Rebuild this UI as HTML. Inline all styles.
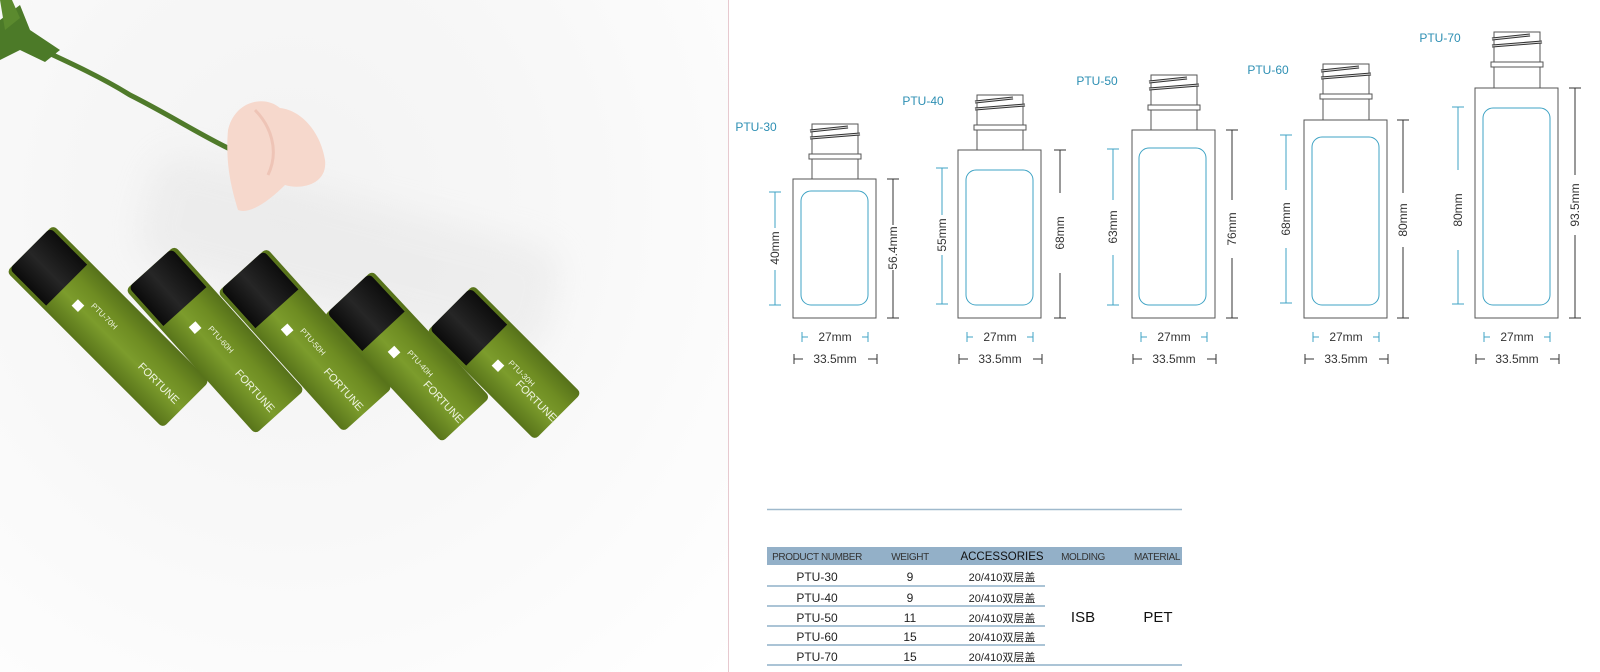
<!DOCTYPE html>
<html><head><meta charset="utf-8"><style>
html,body{margin:0;padding:0;background:#fff;width:1600px;height:672px;overflow:hidden;position:relative;font-family:"Liberation Sans","Noto Sans CJK SC",sans-serif}
.photo{position:absolute;left:0;top:0;width:728px;height:672px;background:radial-gradient(ellipse at 40% 30%,#f3f3f3 0%,#f7f7f7 40%,#fbfbfb 70%,#fff 100%);overflow:hidden}
.sh{position:absolute;background:#dedede;filter:blur(16px);border-radius:30px}
.b{position:absolute;width:66px;border-radius:5px;background:linear-gradient(90deg,#58741a,#7c9c2c 40%,#6e8c22 70%,#56711a)}
.b .cap{position:absolute;left:4px;top:0;width:58px;height:52px;background:linear-gradient(90deg,#0b0b0b,#262626 45%,#0d0d0d);border-radius:5px 5px 0 0}
.b .sq{position:absolute;left:22px;top:70px;width:9px;height:9px;background:#fff}
.b .t{position:absolute;color:#eef3df;font-size:8px;transform:rotate(90deg);transform-origin:0 0;white-space:nowrap}
</style></head><body>
<div class="photo">
  <div class="sh" style="left:140px;top:200px;width:420px;height:110px;transform:rotate(14deg);opacity:.35"></div>
  <svg width="728" height="672" style="position:absolute;left:0;top:0">
    <path d="M0 30 C40 50 90 70 130 95 C170 115 200 135 232 150" stroke="#4f7a2a" stroke-width="5" fill="none"/>
    <path d="M0 20 L20 5 L30 30 L60 50 L45 62 L20 50 L0 60Z" fill="#4c7a28"/>
    <path d="M0 0 L12 0 L20 18 L5 30Z" fill="#5b8a2e"/>
    <path d="M228 130 C235 100 265 95 280 108 C300 110 320 130 325 160 C328 185 300 190 285 185 C270 200 250 215 238 210 C232 190 225 165 228 130Z" fill="#f6d8cc"/>
    <path d="M255 110 C270 125 280 150 268 175" stroke="#eec4b6" stroke-width="3" fill="none"/>
  </svg>
  <div class="b" style="left:75px;top:216px;height:221px;transform:rotate(-45deg)"><div class="cap"></div><div class="sq"></div><div class="t" style="left:42px;top:84px">PTU-70H</div><div class="t" style="left:34px;top:160px;font-size:11px">FORTUNE</div></div>
  <div class="b" style="left:182px;top:243px;height:194px;transform:rotate(-42deg)"><div class="cap"></div><div class="sq"></div><div class="t" style="left:42px;top:84px">PTU-60H</div><div class="t" style="left:34px;top:135px;font-size:11px">FORTUNE</div></div>
  <div class="b" style="left:272px;top:246px;height:188px;transform:rotate(-42deg)"><div class="cap"></div><div class="sq"></div><div class="t" style="left:42px;top:84px">PTU-50H</div><div class="t" style="left:34px;top:130px;font-size:11px">FORTUNE</div></div>
  <div class="b" style="left:374px;top:270px;height:173px;transform:rotate(-43deg)"><div class="cap"></div><div class="sq"></div><div class="t" style="left:42px;top:84px">PTU-40H</div><div class="t" style="left:34px;top:118px;font-size:11px">FORTUNE</div></div>
  <div class="b" style="left:471px;top:286px;height:153px;transform:rotate(-45deg)"><div class="cap"></div><div class="sq"></div><div class="t" style="left:42px;top:80px">PTU-30H</div><div class="t" style="left:34px;top:100px;font-size:11px">FORTUNE</div></div>
</div>
<div style="position:absolute;left:728px;top:0;width:1px;height:672px;background:#e7c9cf"></div>

<svg width="1600" height="672" style="position:absolute;left:0;top:0" font-family="Liberation Sans, Noto Sans CJK SC, sans-serif">
<g fill="#2d8fb3" font-size="12">
<text x="756" y="131" text-anchor="middle">PTU-30</text>
<text x="923" y="105" text-anchor="middle">PTU-40</text>
<text x="1097" y="85" text-anchor="middle">PTU-50</text>
<text x="1268" y="74" text-anchor="middle">PTU-60</text>
<text x="1440" y="42" text-anchor="middle">PTU-70</text>
</g>

<g transform="translate(793,0)" fill="none" stroke-width="1">
<rect x="19" y="124" width="46" height="55" stroke="#555"/>
<path d="M17 131 L55 127 M17 138 L67 134" stroke="#333" stroke-width="3"/>
<path d="M17 131 L55 127 M17 138 L67 134" stroke="#ddd" stroke-width="1"/>
<rect x="16" y="154" width="52" height="5" stroke="#555" fill="#fff"/>
<rect x="0" y="179" width="83" height="139" stroke="#555" fill="#fff"/>
<rect x="8" y="191" width="67" height="114" rx="10" stroke="#3fa3c4"/>
<path d="M-24 192 H-12 M-18 192 V228 M-18 270 V305 M-24 305 H-12" stroke="#3fa3c4"/>
<path d="M94 179 H106 M100 179 V225 M100 270 V318 M94 318 H106" stroke="#333"/>
<path d="M9 332 V342 M9 337 H15 M75 332 V342 M75 337 H69" stroke="#3fa3c4"/>
<path d="M1 354 V364 M1 359 H10 M84 354 V364 M84 359 H75" stroke="#333"/>
</g>
<g font-size="12" fill="#333" text-anchor="middle">
<text transform="translate(779,248) rotate(-90)">40mm</text>
<text transform="translate(897,248) rotate(-90)">56.4mm</text>
<text x="835" y="341">27mm</text><text x="835" y="363">33.5mm</text>
</g>

<g transform="translate(958,0)" fill="none">
<rect x="19" y="95" width="46" height="55" stroke="#555"/>
<path d="M17 102 L55 98 M17 109 L67 105" stroke="#333" stroke-width="3"/>
<path d="M17 102 L55 98 M17 109 L67 105" stroke="#ddd" stroke-width="1"/>
<rect x="16" y="125" width="52" height="5" stroke="#555" fill="#fff"/>
<rect x="0" y="150" width="83" height="168" stroke="#555" fill="#fff"/>
<rect x="8" y="170" width="67" height="135" rx="10" stroke="#3fa3c4"/>
<path d="M-22 168 H-10 M-16 168 V215 M-16 255 V304 M-22 304 H-10" stroke="#3fa3c4"/>
<path d="M96 150 H108 M102 150 V193 M102 273 V318 M96 318 H108" stroke="#333"/>
<path d="M9 332 V342 M9 337 H15 M75 332 V342 M75 337 H69" stroke="#3fa3c4"/>
<path d="M1 354 V364 M1 359 H10 M84 354 V364 M84 359 H75" stroke="#333"/>
</g>
<g font-size="12" fill="#333" text-anchor="middle">
<text transform="translate(946,235) rotate(-90)">55mm</text>
<text transform="translate(1064,233) rotate(-90)">68mm</text>
<text x="1000" y="341">27mm</text><text x="1000" y="363">33.5mm</text>
</g>

<g transform="translate(1132,0)" fill="none">
<rect x="19" y="75" width="46" height="55" stroke="#555"/>
<path d="M17 82 L55 78 M17 89 L67 85" stroke="#333" stroke-width="3"/>
<path d="M17 82 L55 78 M17 89 L67 85" stroke="#ddd" stroke-width="1"/>
<rect x="16" y="105" width="52" height="5" stroke="#555" fill="#fff"/>
<rect x="0" y="130" width="83" height="188" stroke="#555" fill="#fff"/>
<rect x="7" y="148" width="67" height="157" rx="10" stroke="#3fa3c4"/>
<path d="M-25 149 H-13 M-19 149 V200 M-19 255 V305 M-25 305 H-13" stroke="#3fa3c4"/>
<path d="M94 130 H106 M100 130 V200 M100 258 V318 M94 318 H106" stroke="#333"/>
<path d="M9 332 V342 M9 337 H15 M75 332 V342 M75 337 H69" stroke="#3fa3c4"/>
<path d="M1 354 V364 M1 359 H10 M84 354 V364 M84 359 H75" stroke="#333"/>
</g>
<g font-size="12" fill="#333" text-anchor="middle">
<text transform="translate(1117,227) rotate(-90)">63mm</text>
<text transform="translate(1236,229) rotate(-90)">76mm</text>
<text x="1174" y="341">27mm</text><text x="1174" y="363">33.5mm</text>
</g>

<g transform="translate(1304,0)" fill="none">
<rect x="19" y="64" width="46" height="56" stroke="#555"/>
<path d="M17 71 L55 67 M17 78 L67 74" stroke="#333" stroke-width="3"/>
<path d="M17 71 L55 67 M17 78 L67 74" stroke="#ddd" stroke-width="1"/>
<rect x="16" y="94" width="52" height="5" stroke="#555" fill="#fff"/>
<rect x="0" y="120" width="83" height="198" stroke="#555" fill="#fff"/>
<rect x="8" y="137" width="67" height="168" rx="10" stroke="#3fa3c4"/>
<path d="M-24 135 H-12 M-18 135 V190 M-18 248 V303 M-24 303 H-12" stroke="#3fa3c4"/>
<path d="M93 120 H105 M99 120 V193 M99 247 V318 M93 318 H105" stroke="#333"/>
<path d="M9 332 V342 M9 337 H15 M75 332 V342 M75 337 H69" stroke="#3fa3c4"/>
<path d="M1 354 V364 M1 359 H10 M84 354 V364 M84 359 H75" stroke="#333"/>
</g>
<g font-size="12" fill="#333" text-anchor="middle">
<text transform="translate(1290,219) rotate(-90)">68mm</text>
<text transform="translate(1407,220) rotate(-90)">80mm</text>
<text x="1346" y="341">27mm</text><text x="1346" y="363">33.5mm</text>
</g>

<g transform="translate(1475,0)" fill="none">
<rect x="19" y="32" width="46" height="56" stroke="#555"/>
<path d="M17 39 L55 35 M17 46 L67 42" stroke="#333" stroke-width="3"/>
<path d="M17 39 L55 35 M17 46 L67 42" stroke="#ddd" stroke-width="1"/>
<rect x="16" y="62" width="52" height="5" stroke="#555" fill="#fff"/>
<rect x="0" y="88" width="83" height="230" stroke="#555" fill="#fff"/>
<rect x="8" y="108" width="67" height="197" rx="10" stroke="#3fa3c4"/>
<path d="M-23 107 H-11 M-17 107 V170 M-17 250 V304 M-23 304 H-11" stroke="#3fa3c4"/>
<path d="M94 88 H106 M100 88 V175 M100 235 V318 M94 318 H106" stroke="#333"/>
<path d="M9 332 V342 M9 337 H15 M75 332 V342 M75 337 H69" stroke="#3fa3c4"/>
<path d="M1 354 V364 M1 359 H10 M84 354 V364 M84 359 H75" stroke="#333"/>
</g>
<g font-size="12" fill="#333" text-anchor="middle">
<text transform="translate(1462,210) rotate(-90)">80mm</text>
<text transform="translate(1579,205) rotate(-90)">93.5mm</text>
<text x="1517" y="341">27mm</text><text x="1517" y="363">33.5mm</text>
</g>

<line x1="767" y1="509.5" x2="1182" y2="509.5" stroke="#9fb9cc" stroke-width="1.5"/>
<rect x="767" y="547" width="415" height="18" fill="#93b0c8"/>
<g font-size="10" fill="#333" text-anchor="middle" letter-spacing="-0.4">
<text x="817" y="560">PRODUCT NUMBER</text>
<text x="910" y="560">WEIGHT</text>
<text x="1083" y="560">MOLDING</text>
<text x="1157" y="560">MATERIAL</text>
</g>
<text x="1002" y="560" font-size="11.5" fill="#111" text-anchor="middle">ACCESSORIES</text>
<g stroke="#8fb0c9" stroke-width="1.5">
<line x1="767" y1="586" x2="1045" y2="586"/>
<line x1="767" y1="606" x2="1045" y2="606"/>
<line x1="767" y1="626" x2="1045" y2="626"/>
<line x1="767" y1="645" x2="1045" y2="645"/>
<line x1="767" y1="665" x2="1182" y2="665"/>
</g>
<g font-size="12" fill="#222" text-anchor="middle">
<text x="817" y="581">PTU-30</text><text x="910" y="581">9</text><text x="1002" y="581" font-size="11">20/410双层盖</text>
<text x="817" y="602">PTU-40</text><text x="910" y="602">9</text><text x="1002" y="602" font-size="11">20/410双层盖</text>
<text x="817" y="622">PTU-50</text><text x="910" y="622">11</text><text x="1002" y="622" font-size="11">20/410双层盖</text>
<text x="817" y="641">PTU-60</text><text x="910" y="641">15</text><text x="1002" y="641" font-size="11">20/410双层盖</text>
<text x="817" y="661">PTU-70</text><text x="910" y="661">15</text><text x="1002" y="661" font-size="11">20/410双层盖</text>
</g>
<g font-size="15" fill="#111" text-anchor="middle">
<text x="1083" y="622">ISB</text><text x="1158" y="622">PET</text>
</g>
</svg>
</body></html>
